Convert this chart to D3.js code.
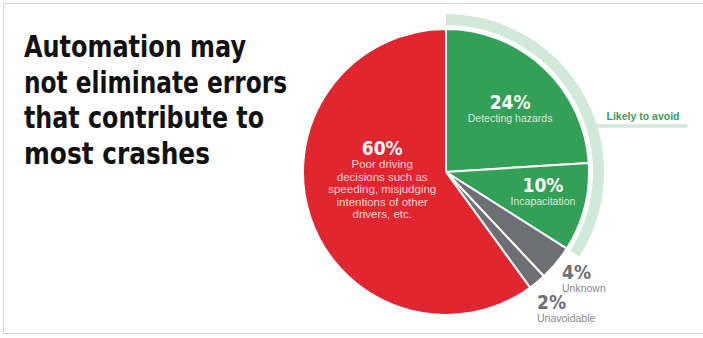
<!DOCTYPE html>
<html>
<head>
<meta charset="utf-8">
<script src="https://cdn.jsdelivr.net/npm/d3@7"></script>
<style>
  body { margin: 0; background: #fff; }
  svg { display: block; }
</style>
</head>
<body>
<script>
// chart size
const width = 703, height = 338;

// data
const categories = ["Detecting hazards", "Incapacitation", "Unknown", "Unavoidable", "Poor driving"];
const shares = [24, 10, 4, 2, 60];
const descriptions = [
  ["Detecting hazards"],
  ["Incapacitation"],
  ["Unknown"],
  ["Unavoidable"],
  ["Poor driving", "decisions such as", "speeding, misjudging", "intentions of other", "drivers, etc."]
];
const avoidable = ["Detecting hazards", "Incapacitation"];
const titleLines = ["Automation may", "not eliminate errors", "that contribute to", "most crashes"];
const bandLabel = "Likely to avoid";

const colors = {
  "Detecting hazards": "#33a057",
  "Incapacitation": "#33a057",
  "Unknown": "#6e6f74",
  "Unavoidable": "#6e6f74",
  "Poor driving": "#e1262f"
};

const condensed = "'DejaVu Sans Condensed', 'Liberation Sans Narrow', sans-serif";
const plain = "'Liberation Sans', Arial, sans-serif";

const svg = d3.select("body").append("svg")
  .attr("width", width)
  .attr("height", height);

// frame round the graphic
svg.append("rect")
  .attr("x", 3.5).attr("y", 3.5)
  .attr("width", width + 10).attr("height", 330)
  .attr("fill", "#fff")
  .attr("stroke", "#d4d4d4")
  .attr("stroke-width", 1);

// title
const title = svg.append("g").attr("transform", "translate(24,57)");
titleLines.forEach((t, i) => {
  title.append("text")
    .attr("y", i * 35.5)
    .attr("font-family", condensed)
    .attr("font-weight", "bold")
    .attr("font-size", 31)
    .attr("fill", "#111")
    .attr("textLength", [222, 263, 240, 186][i])
    .attr("lengthAdjust", "spacingAndGlyphs")
    .text(t);
});

// pie
const cx = 446, cy = 172, r = 143;
const pieData = categories.map((c, i) => ({ cat: c, value: shares[i], lines: descriptions[i] }));
const pie = d3.pie().sort(null).value(d => d.value);
const arcs = pie(pieData);
const arc = d3.arc().innerRadius(0).outerRadius(r);

const g = svg.append("g").attr("transform", `translate(${cx},${cy})`);

// light green band for the avoidable share
const avoidArcs = arcs.filter(a => avoidable.includes(a.data.cat));
const band = d3.arc().innerRadius(147).outerRadius(158);
g.append("path")
  .attr("d", band({ startAngle: d3.min(avoidArcs, a => a.startAngle), endAngle: d3.max(avoidArcs, a => a.endAngle) }))
  .attr("fill", "#d0e9d8");

// leader line from band to its label
const ly = -46;
const lx = Math.sqrt(155 * 155 - ly * ly);
g.append("path")
  .attr("d", `M${lx - 4},${ly - 4} Q${lx - 2},${ly} ${lx + 4},${ly} L${lx + 92},${ly}`)
  .attr("fill", "none")
  .attr("stroke", "#d0e9d8")
  .attr("stroke-width", 3.5)
  .attr("stroke-linecap", "round");
g.append("text")
  .attr("x", lx + 49).attr("y", ly - 6)
  .attr("text-anchor", "middle")
  .attr("font-family", plain)
  .attr("font-weight", "bold")
  .attr("font-size", 11)
  .attr("fill", "#3f9a5c")
  .attr("textLength", 73)
  .attr("lengthAdjust", "spacingAndGlyphs")
  .text(bandLabel);

// slices
g.selectAll("path.slice")
  .data(arcs)
  .enter().append("path")
  .attr("class", "slice")
  .attr("d", arc)
  .attr("fill", d => colors[d.data.cat])
  .attr("stroke", "#fff")
  .attr("stroke-width", 2)
  .attr("stroke-linejoin", "round");

// label placement: [radius, angle shift in degrees, sub font size] from the slice middle for inside labels,
// offsets from the pie centre for the small outside ones
const inside = { "Detecting hazards": [90, 2.2, 10.5], "Incapacitation": [99, -2.8, 10.5], "Poor driving": [66, 32.9, 11.5] };
const outside = { "Unknown": [116, 107], "Unavoidable": [91, 137] };

arcs.forEach(a => {
  const cat = a.data.cat;
  const mid = (a.startAngle + a.endAngle) / 2;
  let x, y, anchor, col, sub, fs = 10.5;
  if (inside[cat]) {
    const [rr, off, size] = inside[cat];
    const ang = mid + off * Math.PI / 180;
    x = Math.sin(ang) * rr;
    y = -Math.cos(ang) * rr;
    fs = size;
    anchor = "middle"; col = "#fff"; sub = "rgba(255,255,255,0.8)";
  } else {
    [x, y] = outside[cat];
    anchor = "start"; col = "#6e6f74"; sub = "#86878c";
  }
  const t = g.append("g").attr("transform", `translate(${x},${y})`);
  t.append("text")
    .attr("text-anchor", anchor)
    .attr("font-family", condensed)
    .attr("font-weight", "bold")
    .attr("font-size", 19)
    .attr("fill", col)
    .text(a.data.value + "%");
  a.data.lines.forEach((l, i) => {
    t.append("text")
      .attr("y", 13 + i * 12.5)
      .attr("text-anchor", anchor)
      .attr("font-family", plain)
      .attr("font-size", fs)
      .attr("fill", sub)
      .text(l);
  });
});
</script>
</body>
</html>
